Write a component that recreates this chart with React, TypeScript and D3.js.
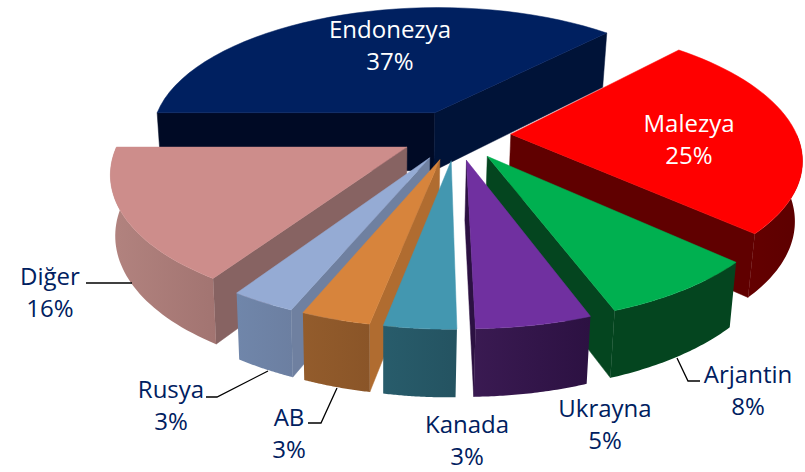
import React from 'react';
import * as d3 from 'd3';

const categories = ['Endonezya', 'Malezya', 'Arjantin', 'Ukrayna', 'Kanada', 'AB', 'Rusya', 'Diğer'];
const shares = [37, 24.9, 7.5, 5.3, 3.3, 3.2, 3, 15.8];

const topColors = ['#002060', '#ff0000', '#00b050', '#7030a0', '#4397b0', '#d7843c', '#95abd4', '#cd8d8b'];
const sideFrom = ['#000a25', '#640000', '#04451f', '#3a1a52', '#285c6b', '#935c2c', '#7086aa', '#b2837f'];
const sideTo = ['#000a25', '#5c0000', '#04451f', '#2c1142', '#245361', '#8a5528', '#6c7fa1', '#a27471'];
const startWall = ['#000a25', '#600000', '#04451f', '#2c1142', '#245361', '#b06c30', '#6f80a0', '#876362'];
const endWall = ['#001338', '#600000', '#04451f', '#2c1142', '#245361', '#b06c30', '#6f80a0', '#876362'];

// draw order, back to front
const paintOrder = [0, 1, 7, 2, 6, 5, 4, 3];

const labelPos = [
  [390, 38], [689, 132], [748, 383], [605, 417], [467, 433], [289, 426], [171, 398], [50, 285],
];
const labelColors = ['#ffffff', '#ffffff', '#002060', '#002060', '#002060', '#002060', '#002060', '#002060'];

const leaders = [
  [[86, 283], [132, 283]],
  [[206, 397], [217, 397], [268, 371]],
  [[308, 423], [321, 423], [337, 388]],
  [[700, 381], [688, 381], [677, 358]],
];

const width = 805;
const height = 472;
const cx = 456;
const cy = 135;
const rx = 286;
const ry = 130;
const explode = 0.192;
const persp = 0.17;
const vanishX = 380;

const project = (a: number, r: number, off: number[], z: number): [number, number] => {
  const wx = off[0] + r * Math.sin(a);
  const wy = off[1] - r * Math.cos(a);
  const p = 1 / (1 - persp * wy);
  const x = cx + wx * rx * p;
  return [x - 0.018 * z * (x - vanishX), cy + wy * ry * p + z * (23 + 36 * p)];
};

const line = d3.line();

export default function App() {
  const arcs = d3.pie<number>().sort(null).startAngle(-Math.PI / 2).endAngle(1.5 * Math.PI)(shares);

  const slices = arcs.map((d, i) => {
    const mid = (d.startAngle + d.endAngle) / 2;
    const off = [explode * Math.sin(mid), -explode * Math.cos(mid)];
    const sweep = (a0: number, a1: number, z: number) =>
      d3.range(0, 41).map(k => project(a0 + ((a1 - a0) * k) / 40, 1, off, z));

    const top = line([project(0, 0, off, 0), ...sweep(d.startAngle, d.endAngle, 0)]) + 'Z';

    const wall = (a: number) =>
      line([project(0, 0, off, 0), project(a, 1, off, 0), project(a, 1, off, 1), project(0, 0, off, 1)]) + 'Z';

    const f0 = Math.max(d.startAngle, Math.PI / 2);
    const f1 = Math.min(d.endAngle, 1.5 * Math.PI);
    const outer = f1 > f0 ? line([...sweep(f0, f1, 0), ...sweep(f1, f0, 1)]) + 'Z' : null;

    return {
      i,
      top,
      outer,
      startWall: -Math.sin(d.startAngle) > 0 ? wall(d.startAngle) : null,
      endWall: Math.sin(d.endAngle) > 0 ? wall(d.endAngle) : null,
    };
  });

  return (
    <svg width={width} height={height} style={{ position: 'absolute', left: 0, top: 0, display: 'block' }}>
      <defs>
        {categories.map((c, i) => (
          <linearGradient key={c} id={`side${i}`} x1="0" x2="1" y1="0" y2="0">
            <stop offset="0" stopColor={sideFrom[i]} />
            <stop offset="1" stopColor={sideTo[i]} />
          </linearGradient>
        ))}
      </defs>

      {paintOrder.map(i => {
        const s = slices[i];
        return (
          <g key={categories[i]}>
            {s.startWall && <path d={s.startWall} fill={startWall[i]} stroke={startWall[i]} strokeWidth={0.5} />}
            {s.endWall && <path d={s.endWall} fill={endWall[i]} stroke={endWall[i]} strokeWidth={0.5} />}
            {s.outer && <path d={s.outer} fill={`url(#side${i})`} />}
            <path d={s.top} fill={topColors[i]} stroke={topColors[i]} strokeWidth={0.5} />
          </g>
        );
      })}

      {leaders.map((pts, i) => (
        <path key={i} d={line(pts as [number, number][]) as string} fill="none" stroke="#000" strokeWidth={1.3} />
      ))}

      <g fontFamily="'Open Sans', sans-serif" fontSize={24} textAnchor="middle">
        {categories.map((c, i) => (
          <text key={c} fill={labelColors[i]}>
            <tspan x={labelPos[i][0]} y={labelPos[i][1]}>{c}</tspan>
            <tspan x={labelPos[i][0]} y={labelPos[i][1] + 32}>{`${Math.round(shares[i])}%`}</tspan>
          </text>
        ))}
      </g>
    </svg>
  );
}
